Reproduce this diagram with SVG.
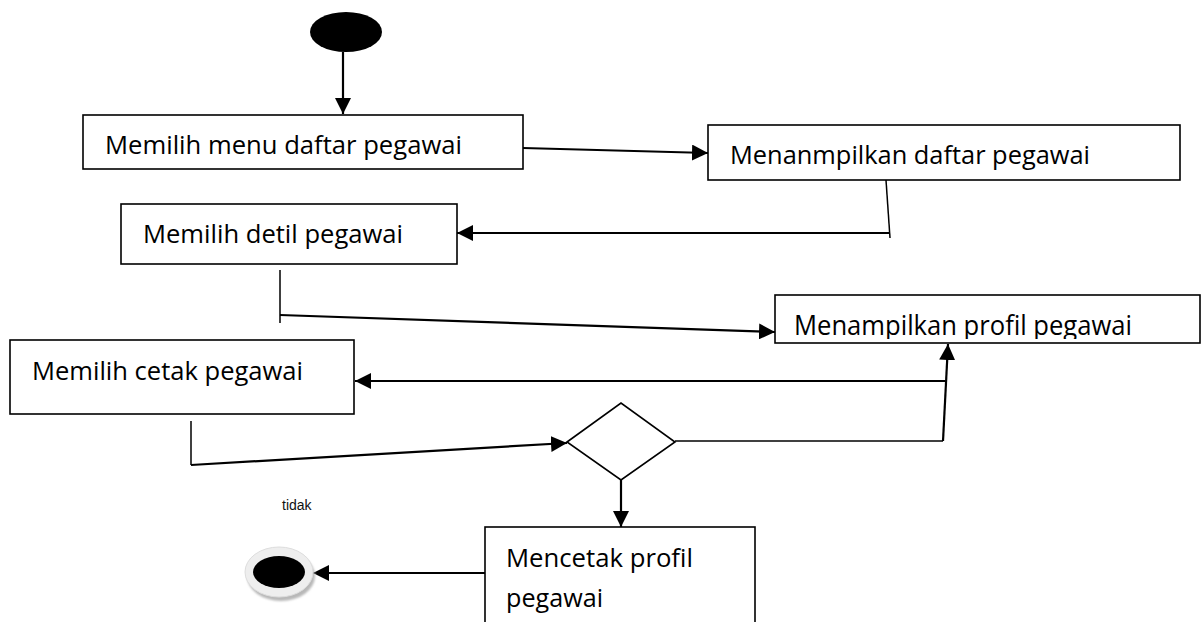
<svg xmlns="http://www.w3.org/2000/svg" width="1204" height="622" viewBox="0 0 1204 622">
  <defs>
    <style>
      .box { fill: #ffffff; stroke: #000000; stroke-width: 1.6; }
      .lbl { font-family: "Open Sans", "Noto Sans", sans-serif; font-size: 25.5px; fill: #000000; }
      .small { font-family: "Liberation Sans", Arial, sans-serif; font-size: 14px; fill: #111111; }
      .edge { fill: none; stroke: #000000; stroke-width: 2.2; }
      .thin { fill: none; stroke: #000000; stroke-width: 1.5; }
    </style>
    <marker id="arrowL" viewBox="0 0 10 10" refX="10" refY="5" markerWidth="16" markerHeight="16" markerUnits="userSpaceOnUse" orient="auto">
      <path d="M0,0 L10,5 L0,10 z" fill="#000000"/>
    </marker>
    <clipPath id="clipProfil">
      <rect x="775" y="295" width="425" height="44"/>
    </clipPath>
    <filter id="shadow" x="-30%" y="-30%" width="160%" height="160%">
      <feGaussianBlur stdDeviation="1.2"/>
    </filter>
  </defs>

  <rect width="1204" height="622" fill="#ffffff"/>

  <!-- connectors -->
  <g id="connectors">
    <line class="edge" x1="343" y1="52" x2="343" y2="114" marker-end="url(#arrowL)"/>
    <line class="edge" x1="523" y1="148" x2="708" y2="153" marker-end="url(#arrowL)"/>
    <polyline class="thin" points="886,180 890,238"/>
    <line class="edge" x1="889" y1="233" x2="457" y2="233" marker-end="url(#arrowL)"/>
    <line class="thin" x1="280" y1="270" x2="280" y2="323"/>
    <line class="edge" x1="280" y1="315" x2="775" y2="332" marker-end="url(#arrowL)"/>
    <line class="edge" x1="943" y1="441" x2="948" y2="344" marker-end="url(#arrowL)"/>
    <line class="edge" x1="945" y1="381" x2="355" y2="381" marker-end="url(#arrowL)"/>
    <line class="thin" x1="675" y1="441" x2="943" y2="441"/>
    <line class="thin" x1="191" y1="421" x2="191" y2="465"/>
    <line class="edge" x1="191" y1="465" x2="567" y2="443" marker-end="url(#arrowL)"/>
    <line class="edge" x1="621" y1="480" x2="621" y2="527" marker-end="url(#arrowL)"/>
    <line class="edge" x1="485" y1="573" x2="313" y2="573" marker-end="url(#arrowL)"/>
  </g>

  <!-- initial node -->
  <g id="start">
    <ellipse cx="346" cy="32" rx="36" ry="20" fill="#000000"/>
  </g>

  <g id="memilih-menu">
    <rect class="box" x="83" y="115" width="440" height="54"/>
    <text class="lbl" x="105" y="154" textLength="357" lengthAdjust="spacingAndGlyphs">Memilih menu daftar pegawai</text>
  </g>

  <g id="menampilkan-daftar">
    <rect class="box" x="708" y="125" width="472" height="55"/>
    <text class="lbl" x="730" y="164" textLength="360" lengthAdjust="spacingAndGlyphs">Menanmpilkan daftar pegawai</text>
  </g>

  <g id="memilih-detil">
    <rect class="box" x="121" y="204" width="336" height="60"/>
    <text class="lbl" x="143" y="243" textLength="260" lengthAdjust="spacingAndGlyphs">Memilih detil pegawai</text>
  </g>

  <g id="menampilkan-profil">
    <text class="lbl" x="794" y="335" textLength="338" lengthAdjust="spacingAndGlyphs" clip-path="url(#clipProfil)" style="font-size:27px">Menampilkan profil pegawai</text>
    <rect x="775" y="295" width="425" height="48" fill="none" stroke="#000000" stroke-width="1.6"/>
  </g>

  <g id="memilih-cetak">
    <rect class="box" x="10" y="340" width="344" height="74"/>
    <text class="lbl" x="32" y="380" textLength="271" lengthAdjust="spacingAndGlyphs">Memilih cetak pegawai</text>
  </g>

  <!-- decision -->
  <g id="decision">
    <polygon class="box" points="567,442 621,403 675,442 621,480"/>
  </g>

  <g id="label-tidak">
    <text class="small" x="282" y="510">tidak</text>
  </g>

  <g id="mencetak-profil">
    <rect class="box" x="485" y="527" width="270" height="100"/>
    <text class="lbl" x="506" y="567" textLength="187" lengthAdjust="spacingAndGlyphs">Mencetak profil</text>
    <text class="lbl" x="506" y="607" textLength="97" lengthAdjust="spacingAndGlyphs">pegawai</text>
  </g>

  <!-- final node -->
  <g id="end">
    <ellipse cx="281" cy="576" rx="34" ry="25" fill="#b8b8b8" filter="url(#shadow)"/>
    <ellipse cx="279" cy="572" rx="34" ry="25" fill="#eeeeee" stroke="#dddddd" stroke-width="1"/>
    <ellipse cx="279" cy="572" rx="26" ry="16" fill="#000000"/>
  </g>
</svg>
